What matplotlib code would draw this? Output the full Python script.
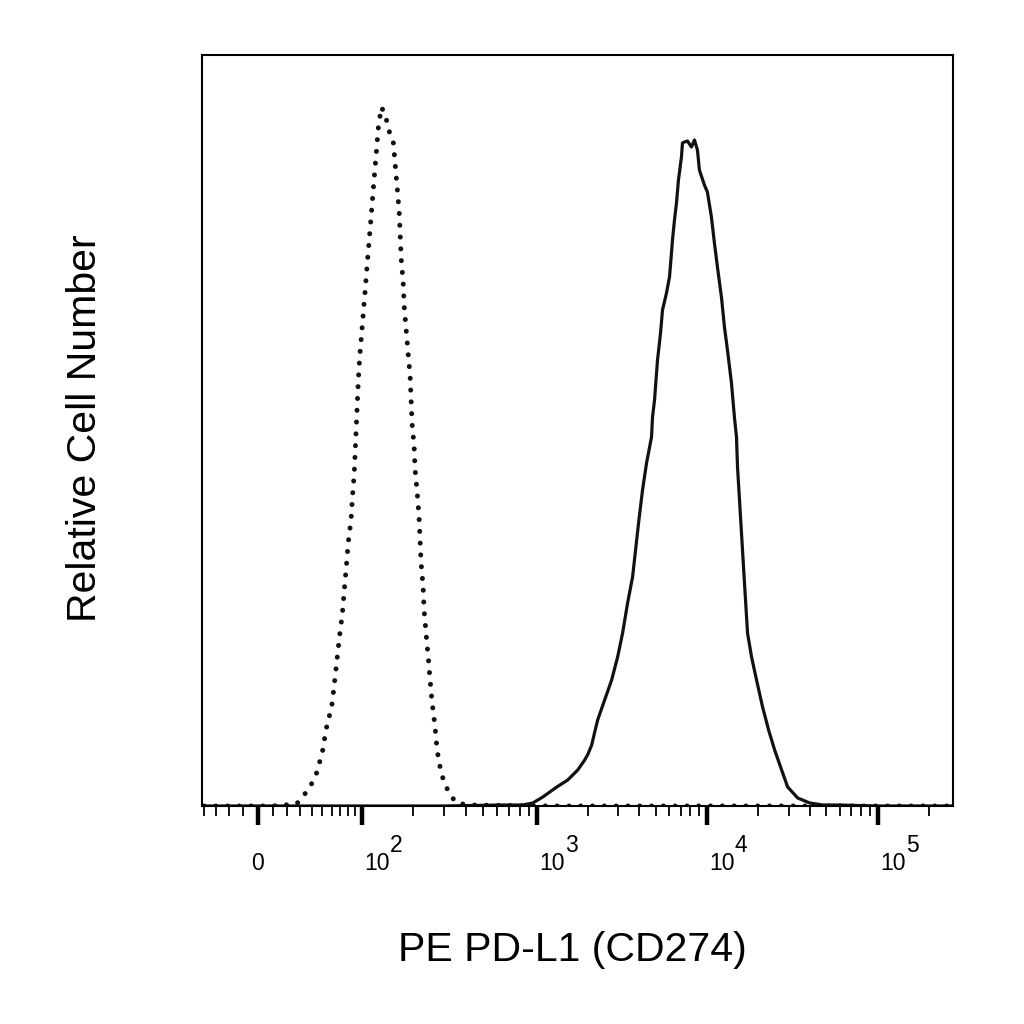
import numpy as np
import matplotlib.pyplot as plt

# isotype control (dotted) and PE PD-L1 stained cells (solid)
iso_x = [-40, -20, 0, 10, 18.5, 27.5, 33, 39, 44, 50, 54, 60, 63, 66, 69, 72.5, 75, 77.6, 80,
         84, 86, 88.5, 90, 91.5, 93, 94.8, 96.8, 100, 102.7, 105.4, 108.2, 111.1, 114.1, 117.1,
         120.2, 123.4, 125.1, 126.7, 131.8, 140.7, 146.4, 154.4, 158.5, 162.8, 167.1, 169.3,
         171.5, 176, 178.4, 183, 188, 193, 195.6, 198, 203.5, 206, 212, 217, 220, 223, 229,
         232, 238, 245, 251, 258, 268, 275, 290, 306, 327, 354, 414, 1000, 1e4, 1e5, 2.7e5]
iso_n = [0, 0, 0, 0, 1, 2, 10, 20, 31, 53, 77, 100, 123, 147, 170, 193, 217, 240, 263,
         287, 310, 333, 356, 380, 403, 428, 450, 474, 497, 520, 544, 567, 590, 614,
         637, 660, 673, 683, 699, 686, 674, 663, 640, 617, 593, 570,
         547, 524, 500, 477, 453, 430, 406, 383, 360, 337, 313, 290, 267, 243, 220,
         196, 173, 149, 126, 103, 79, 56, 33, 21, 11, 3, 1, 0, 0, 0, 0]

pdl1_x = [-40, 0, 100, 300, 615, 832, 949, 1084, 1310, 1520, 1740, 1912, 2000, 2102, 2190, 2279,
          2505, 2754, 2986, 3195, 3418, 3656, 3807, 3965, 4184, 4418, 4726, 4790, 4922, 5125,
          5338, 5483, 5787, 6028, 6190, 6276, 6448, 6624, 6805, 7086, 7183, 7379, 7685, 8112,
          8450, 8799, 9036, 9667, 10067, 10627, 11066, 11524, 12162, 12664, 13188, 13920,
          14500, 14893, 15100, 15510, 15930, 16370, 16820, 17280, 18240, 19510, 21160, 22950,
          24890, 27350, 29660, 33950, 39930, 47590, 59850, 1e5, 2.7e5]
pdl1_n = [0, 0, 0, 0, 1, 1, 3, 9, 19, 26, 36, 46, 52, 61, 74, 86,
          106, 126, 149, 173, 203, 229, 256, 283, 316, 343, 369, 389, 406, 446,
          473, 496, 513, 529, 553, 566, 586, 603, 626, 649, 663, 664, 665, 659,
          666, 656, 636, 621, 614, 589, 563, 539, 509, 479, 456, 423,
          388, 369, 339, 306, 273, 239, 206, 173, 149, 126, 99, 76,
          56, 36, 19, 8, 3, 1, 1, 0, 0]

major_ticks = [0, 1e2, 1e3, 1e4, 1e5]
major_exps = [None, 2, 3, 4, 5]
minor_ticks = [-40, -30, -20, -10] + [m * 10 ** e for e in range(1, 6) for m in range(2 if e > 1 else 1, 10)]
minor_ticks = [t for t in minor_ticks if t < 2.7e5]

# biexponential-like display: linear around zero, log decades above 100
C = 46.0
KNOTS = np.array([-1e7, -1e5, -1e4, -1e3, -100, 0, 100, 1e3, 1e4, 1e5, 1e7])
POS = np.array([-961, -620, -449, -279, -104, 0, 104, 279, 449, 620, 961], dtype=float)
A = np.arcsinh(KNOTS / C)


def fwd(x):
    return np.interp(np.arcsinh(np.asarray(x, dtype=float) / C), A, POS)


def inv(y):
    return C * np.sinh(np.interp(np.asarray(y, dtype=float), POS, A))


plt.rcParams['font.family'] = ['Liberation Sans', 'DejaVu Sans']

fig = plt.figure(figsize=(10.24, 10.24), dpi=100)
ax = fig.add_axes([202 / 1024, 1 - 806 / 1024, 751 / 1024, 751 / 1024])
ax.set_xscale('function', functions=(fwd, inv))

ax.plot(pdl1_x, pdl1_n, color='#111111', lw=2.3, solid_joinstyle='round')
ax.plot(iso_x, iso_n, color='#111111', lw=3.6, linestyle=(0, (0.01, 2.35)),
        dash_capstyle='round')

ax.set_xlim(-41.7, 2.754e5)
ax.set_ylim(0, 751)

ax.set_xticks(major_ticks)
ax.set_xticks(minor_ticks, minor=True)
ax.set_yticks([])
ax.tick_params(axis='x', which='major', direction='out', length=14, width=3.2,
               labelbottom=False)
ax.tick_params(axis='x', which='minor', direction='out', length=7.5, width=1.3)
for s in ax.spines.values():
    s.set_linewidth(1.5)

for v, e in zip(major_ticks, major_exps):
    common = dict(xy=(v, 0), xycoords=('data', 'axes fraction'), textcoords='offset pixels',
                  va='baseline', fontsize=16.5)
    if e is None:
        ax.annotate('0', xytext=(0, -64), ha='center', **common)
    else:
        ax.annotate('10', xytext=(2, -64), ha='left', **common)
        ax.annotate(str(e), xytext=(28, -46), ha='left', **common)

fig.text(572 / 1024, 1 - 961 / 1024, 'PE PD-L1 (CD274)', ha='center', va='baseline',
         fontsize=29.5)
fig.text(85 / 1024, 1 - 428 / 1024, 'Relative Cell Number', ha='center', va='center',
         rotation=90, fontsize=29.5)

fig.savefig('out.png', dpi=100)
